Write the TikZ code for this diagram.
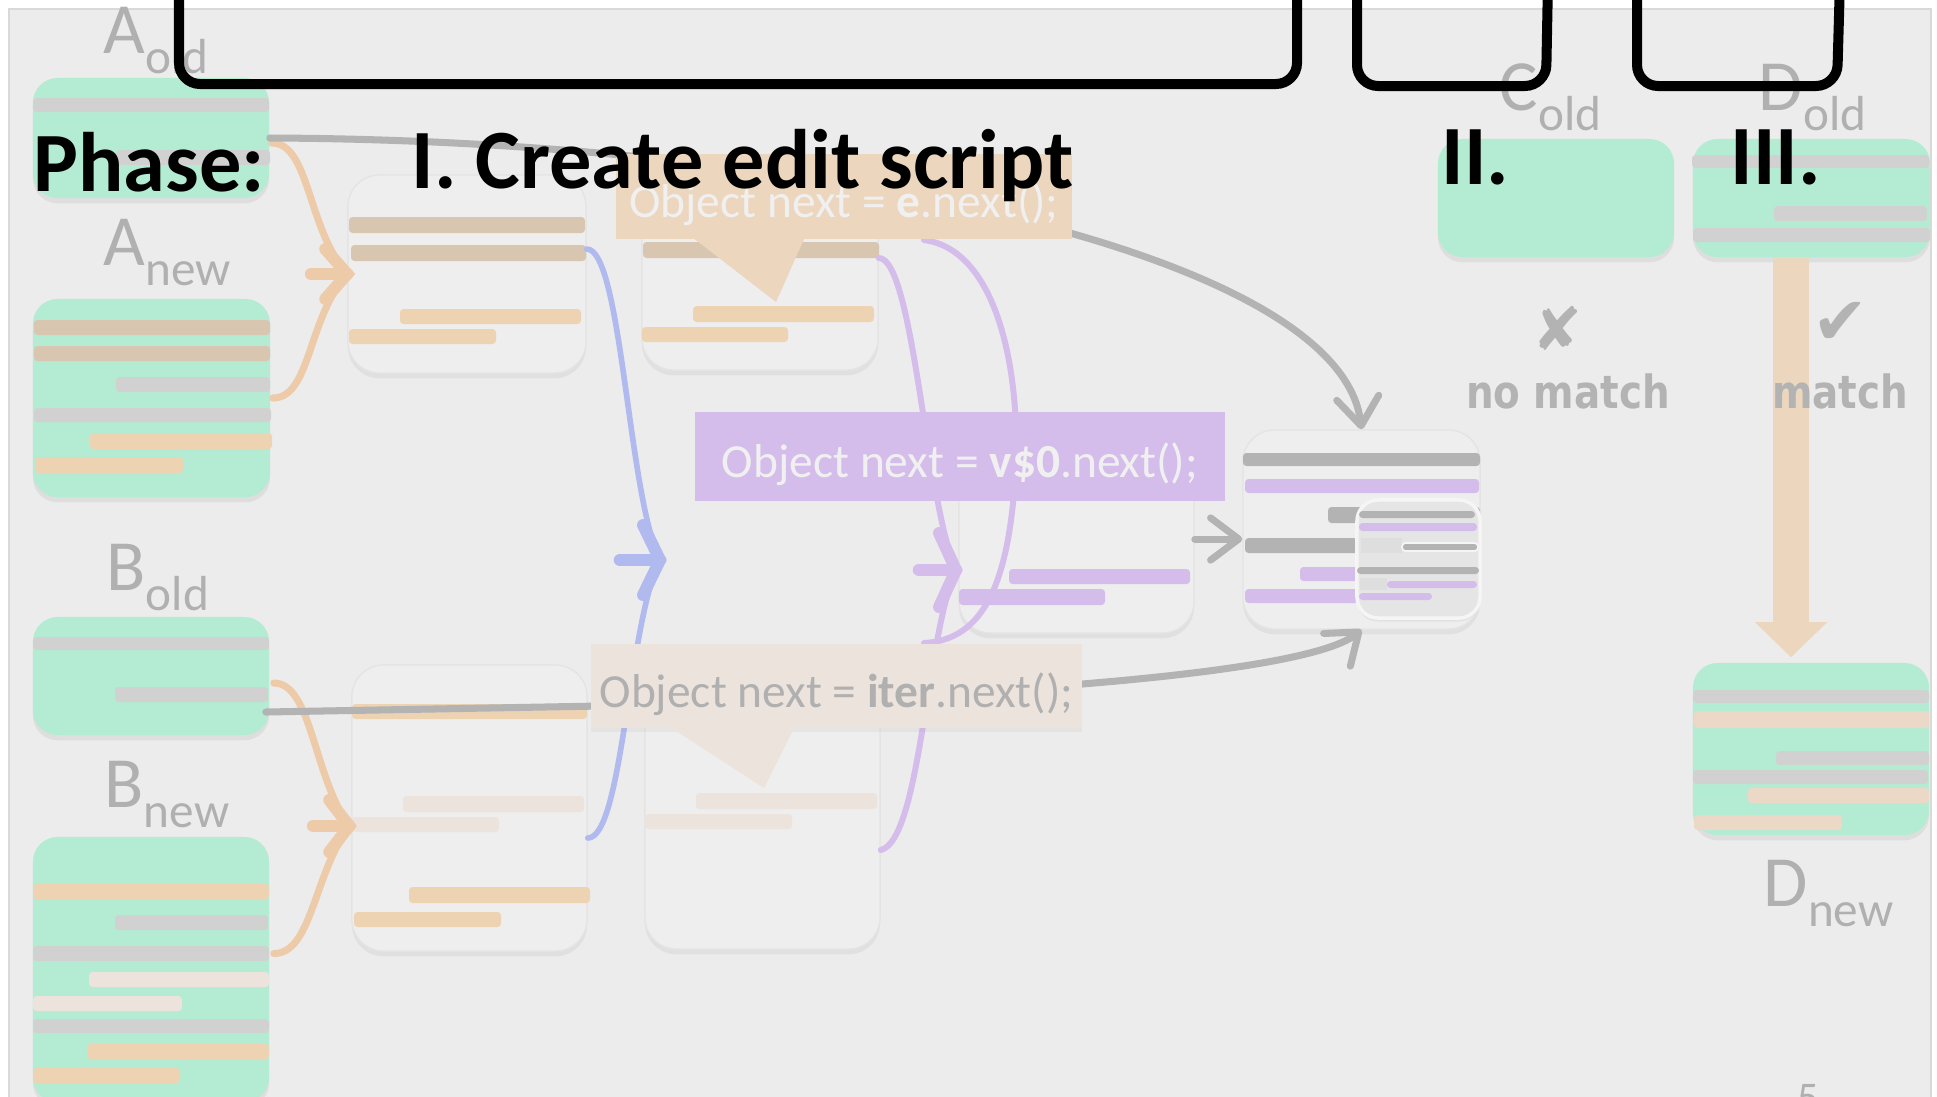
\documentclass[tikz,border=0pt]{standalone}
\usepackage{fontspec}
\setmainfont{Carlito}
\newfontfamily\dejavu{DejaVu Sans}
\usetikzlibrary{arrows.meta,calc,shadows}
\definecolor{slidebg}{HTML}{ECECEC}
\definecolor{slideedge}{HTML}{D9D9D9}
\definecolor{mint}{HTML}{B3ECD3}
\definecolor{panelgray}{HTML}{EEEEEE}
\definecolor{paneledge}{HTML}{E4E4E4}
\definecolor{bargray}{HTML}{D1D1D1}
\definecolor{bardark}{HTML}{B3B3B3}
\definecolor{bartan}{HTML}{D9C6B1}
\definecolor{barorange}{HTML}{EDD3B2}
\definecolor{barbeige}{HTML}{EBE3DC}
\definecolor{barpeach}{HTML}{ECD8C6}
\definecolor{barpurple}{HTML}{D5BDEB}
\definecolor{linkgray}{HTML}{B3B3B3}
\definecolor{linkblue}{HTML}{B0BAEE}
\definecolor{linkpurple}{HTML}{D5BDEB}
\definecolor{linkorange}{HTML}{EDCBA8}
\definecolor{calloutorange}{HTML}{ECD6BD}
\definecolor{labelgray}{HTML}{B0B0B0}
\tikzset{
	greenbox/.style={rectangle,rounded corners=7pt,fill=mint,inner sep=0pt,
		drop shadow={shadow xshift=0pt,shadow yshift=-1.5pt,opacity=.12}},
	panel/.style={rectangle,rounded corners=9pt,fill=panelgray,draw=paneledge,line width=.4pt,inner sep=0pt,
		drop shadow={shadow xshift=0pt,shadow yshift=-1.5pt,opacity=.10}},
	calloutbox/.style={rectangle,inner sep=0pt,text height=12pt,text depth=0pt,font=\fontsize{13.5}{16}\selectfont},
	graybar/.style={fill=bargray,rounded corners=1pt},
	darkbar/.style={fill=bardark,rounded corners=1pt},
	tanbar/.style={fill=bartan,rounded corners=1pt},
	orangebar/.style={fill=barorange,rounded corners=1pt},
	beigebar/.style={fill=barbeige,rounded corners=1pt},
	peachbar/.style={fill=barpeach,rounded corners=1pt},
	purplebar/.style={fill=barpurple,rounded corners=1pt},
	oldnew/.style={text=labelgray,inner sep=0pt,anchor=base west,font=\fontsize{20.5}{22}\selectfont},
	phasetitle/.style={inner sep=0pt,anchor=base west,font=\fontsize{24}{26}\bfseries},
	link/.style={line width=2pt,line cap=round},
	barbhead/.style={-{Straight Barb[length=8pt,width=12pt,round]}},
	bracketline/.style={line width=2.85pt,rounded corners=6pt}
}
\newcommand{\vlabel}[2]{#1\raisebox{-5.7pt}{\fontsize{14}{14}\selectfont #2}}
% merge tip: colour, point, arm dx, arm dy, stub length
\newcommand{\mergetip}[5]{%
	\draw[#1,line width=3.4pt,line cap=round] ($(#2)+(#3,-#4)$) -- (#2) -- ($(#2)+(#3,#4)$);
	\draw[#1,line width=3.6pt,line cap=round] ($(#2)+(-#5,0)$) -- (#2);}

\begin{document}
\begin{tikzpicture}[x=0.01cm,y=-0.01cm]
	\useasboundingbox (0,0) rectangle (1937,1096);
	\fill[white] (0,0) rectangle (1937,1096);
	\fill[slidebg,draw=slideedge] (9,9) rectangle (1931,1110);

	% version labels
	\node[oldnew] (lAold) at (103,53) {\vlabel{A}{old}};
	\node[oldnew] (lAnew) at (103,265) {\vlabel{A}{new}};
	\node[oldnew] (lBold) at (106,590) {\vlabel{B}{old}};
	\node[oldnew] (lBnew) at (104,807) {\vlabel{B}{new}};
	\node[oldnew] (lCold) at (1499,110) {\vlabel{C}{old}};
	\node[oldnew] (lDold) at (1758,110) {\vlabel{D}{old}};
	\node[oldnew] (lDnew) at (1763,906) {\vlabel{D}{new}};

	% source files
	\node[greenbox,minimum width=2.36cm,minimum height=1.20cm] (Aold) at (151,138) {};
	\node[greenbox,minimum width=2.37cm,minimum height=1.98cm] (Anew) at (151.5,398) {};
	\node[greenbox,minimum width=2.36cm,minimum height=1.18cm] (Bold) at (151,676) {};
	\node[greenbox,minimum width=2.36cm,minimum height=2.65cm] (Bnew) at (151,969.5) {};
	\node[greenbox,minimum width=2.36cm,minimum height=1.18cm] (Cold) at (1556,198) {};
	\node[greenbox,minimum width=2.37cm,minimum height=1.18cm] (Dold) at (1811.5,198) {};
	\node[greenbox,minimum width=2.36cm,minimum height=1.72cm] (Dnew) at (1811,749) {};

	\fill[graybar] (33,98) rectangle (269,112);
	\fill[graybar] (116,150) rectangle (270,165);

	\fill[tanbar] (34,320) rectangle (270,335);
	\fill[tanbar] (34,346) rectangle (270,361);
	\fill[graybar] (116,377) rectangle (270,392);
	\fill[graybar] (34,408) rectangle (271,422);
	\fill[orangebar] (90,433) rectangle (272,449);
	\fill[orangebar] (35,457) rectangle (183,473);

	\fill[graybar] (33,637) rectangle (269,650);
	\fill[graybar] (115,687) rectangle (268,702);

	\fill[orangebar] (33,884) rectangle (269,899);
	\fill[graybar] (115,915) rectangle (268,930);
	\fill[graybar] (33,946) rectangle (269,961);
	\fill[beigebar] (89,972) rectangle (269,987);
	\fill[beigebar] (33,996) rectangle (182,1011);
	\fill[graybar] (33,1019) rectangle (269,1033);
	\fill[orangebar] (87,1044) rectangle (269,1059);
	\fill[orangebar] (33,1068) rectangle (180,1083);

	\fill[graybar] (1692,155) rectangle (1929,168);
	\fill[graybar] (1774,206) rectangle (1927,221);
	\fill[graybar] (1693,228) rectangle (1930,242);

	\fill[graybar] (1693,690) rectangle (1929,703);
	\fill[peachbar] (1694,711) rectangle (1929,728);
	\fill[graybar] (1776,751) rectangle (1929,765);
	\fill[graybar] (1693,770) rectangle (1928,784);
	\fill[peachbar] (1748,788) rectangle (1929,803);
	\fill[peachbar] (1694,815) rectangle (1842,830);

	% edit script panels
	\node[panel,minimum width=2.38cm,minimum height=1.98cm] (Pamerge) at (467,274) {};
	\node[panel,minimum width=2.36cm,minimum height=1.92cm] (Paenext) at (760,274) {};
	\node[panel,minimum width=2.35cm,minimum height=1.88cm] (Ppurple) at (1076.5,539) {};
	\node[panel,minimum width=2.37cm,minimum height=1.99cm] (Presult) at (1361.5,529.5) {};
	\node[panel,minimum width=2.35cm,minimum height=2.86cm] (Pbmerge) at (469.5,808) {};
	\node[panel,minimum width=2.35cm,minimum height=2.84cm] (Pbiter) at (762.5,807) {};

	\fill[tanbar] (349,217) rectangle (585,233);
	\fill[tanbar] (351,245) rectangle (586,261);
	\fill[orangebar] (400,309) rectangle (581,324);
	\fill[orangebar] (349,329) rectangle (496,344);

	\fill[tanbar] (643,242) rectangle (879,258);
	\fill[orangebar] (693,306) rectangle (874,322);
	\fill[orangebar] (642,327) rectangle (788,342);

	\fill[purplebar] (1009,569) rectangle (1190,584);
	\fill[purplebar] (959,589) rectangle (1105,605);

	\fill[darkbar] (1243,453) rectangle (1480,466);
	\fill[purplebar] (1245,479) rectangle (1479,493);
	\fill[darkbar] (1328,507) rectangle (1480,523);
	\fill[darkbar] (1245,538) rectangle (1480,553);
	\fill[purplebar] (1300,567) rectangle (1480,581);
	\fill[purplebar] (1245,589) rectangle (1480,603);
	\node[rectangle,rounded corners=6pt,fill=black!10,draw=black!4,line width=1pt,
		drop shadow={shadow xshift=0pt,shadow yshift=-1pt,opacity=.10},
		minimum width=1.23cm,minimum height=1.18cm] (Pzoom) at (1418.5,559) {};
	\fill[darkbar] (1359,511) rectangle (1475,518);
	\fill[purplebar] (1359,523) rectangle (1477,531);
	\fill[black!13] (1361,538) rectangle (1402,553);
	\filldraw[darkbar,draw=black!4,line width=.5pt] (1402,543) rectangle (1478,551);
	\fill[darkbar] (1357,567) rectangle (1479,574);
	\fill[black!13] (1360,578) rectangle (1387,590);
	\fill[purplebar] (1387,581) rectangle (1477,588);
	\fill[purplebar] (1359,593) rectangle (1432,600);

	\fill[orangebar] (352,704) rectangle (587,719);
	\fill[beigebar] (403,796) rectangle (584,812);
	\fill[beigebar] (352,817) rectangle (499,832);
	\fill[orangebar] (409,887) rectangle (590,903);
	\fill[orangebar] (354,912) rectangle (501,927);

	\fill[beigebar] (696,793) rectangle (877,809);
	\fill[beigebar] (645,814) rectangle (792,829);

	% connectors
	\coordinate (blueTip) at (660,560);
	\coordinate (purpleTip) at (956,570);
	\coordinate (aTip) at (Pamerge.west);
	\coordinate (bTip) at ($(Pbmerge.west)+(-2,18)$);
	\draw[link,linkorange] ($(Aold.east)+(2,5)$) .. controls +(38,0) and ($(aTip)+(-40,-45)$) .. (aTip);
	\draw[link,linkorange] ($(Anew.east)+(2,0)$) .. controls +(38,0) and ($(aTip)+(-40,45)$) .. (aTip);
	\mergetip{linkorange}{aTip}{-22}{25}{36}
	\draw[link,linkorange] ($(Bold.east)+(4,7)$) .. controls +(38,0) and ($(bTip)+(-36,-50)$) .. (bTip);
	\draw[link,linkorange] ($(Bnew.east)+(4,-16)$) .. controls +(38,0) and ($(bTip)+(-36,50)$) .. (bTip);
	\mergetip{linkorange}{bTip}{-20}{26}{36}
	\draw[link,linkgray,barbhead] (Aold.east) .. controls (800,140) and (1340,250) .. (Presult.north);
	\draw[link,linkgray,barbhead] ($(Bold.east)+(-4,36)$) -- (600,706) .. controls (900,700) and (1300,680) .. (Presult.south);
	\draw[link,linkblue,line width=1.6pt] ($(Pamerge.east)+(0,-25)$) .. controls +(35,0) and ($(blueTip)+(-32,-64)$) .. (blueTip);
	\draw[link,linkblue,line width=1.6pt] ($(Pbmerge.east)+(0,30)$) .. controls +(35,0) and ($(blueTip)+(-32,64)$) .. (blueTip);
	\mergetip{linkblue}{blueTip}{-17}{35}{40}
	\draw[link,linkpurple,line width=1.7pt] ($(Paenext.east)+(0,-16)$) .. controls +(35,0) and ($(purpleTip)+(-30,-66)$) .. (purpleTip);
	\draw[link,linkpurple,line width=1.7pt] ($(Pbiter.east)+(0,43)$) .. controls +(40,-10) and ($(purpleTip)+(-30,66)$) .. (purpleTip);
	\mergetip{linkpurple}{purpleTip}{-17}{37}{37}
	\draw[link,linkpurple,line width=1.7pt] (924,240) .. controls (1000,250) and (1022,380) .. (1015,480)
		.. controls (1008,580) and (985,640) .. (924,643);
	\draw[link,linkgray,barbhead] (Ppurple.east) -- (Ppurple.east -| Presult.west);

	% callouts
	\node[calloutbox,fill=calloutorange,text=white!94!black,minimum width=4.56cm,minimum height=0.85cm]
		(Cenext) at (844,196.5) {Object next = \textbf{e}.next();};
	\fill[calloutorange] ($(Cenext.south west)+(79,-1)$) -- (776,302) -- ($(Cenext.south west)+(189,-1)$) -- cycle;
	\node[calloutbox,fill=barpurple,text=white!94!black,minimum width=5.30cm,minimum height=0.89cm]
		(Cvzero) at (960,456.5) {Object next = \textbf{v\$0}.next();};
	\node[calloutbox,fill=barbeige,text=labelgray,minimum width=4.91cm,minimum height=0.84cm,
		drop shadow={shadow xshift=0pt,shadow yshift=-1pt,opacity=.08}]
		(Citer) at (836.5,686) {Object next = \textbf{iter}.next();};
	\fill[barbeige] ($(Citer.south west)+(81,-1)$) -- (764,788) -- ($(Citer.south west)+(204,-1)$) -- cycle;

	% matching
	\coordinate (matchx) at (1791,0);
	\draw[calloutorange,line width=10.2pt,-{Triangle[length=10pt,width=20pt]}]
		(Dold.south -| matchx) -- ($(Dnew.north -| matchx)+(0,-5)$);
	\node[text=linkgray,font=\dejavu\fontsize{17}{17}\selectfont] (nomark) at (1558,328) {✘};
	\node[text=linkgray,font=\dejavu\fontsize{19}{19}\selectfont] (yesmark) at (1840,323) {✔};
	\node[text=linkgray,anchor=base,inner sep=0pt,font=\dejavu\bfseries\fontsize{13}{13}\selectfont]
		(nomatch) at (1568,408) {\scalebox{0.85}[1]{no match}};
	\node[text=linkgray,anchor=base,inner sep=0pt,font=\dejavu\bfseries\fontsize{13}{13}\selectfont]
		(match) at (1840,408) {\scalebox{0.85}[1]{match}};
	\node[text=labelgray,anchor=north,inner sep=0pt,font=\fontsize{12}{12}\selectfont] (slideno) at (1808,1084) {5};

	% phase brackets
	\draw[bracketline] (179,-20) -- (179,84) -- (1297,84) -- (1297,-20);
	\draw[bracketline] (1357,-20) -- (1357,86) -- (1546,86) -- (1548,-20);
	\draw[bracketline] (1637,-20) -- (1637,86) -- (1837,86) -- (1840,-20);

	% phase titles
	\node[phasetitle] (tphase) at (33,191) {Phase:};
	\node[phasetitle] (tone) at (411,188) {I. Create edit script};
	\node[phasetitle] (ttwo) at (1441,184) {II.};
	\node[phasetitle] (tthree) at (1730,184) {III.};
\end{tikzpicture}
\end{document}
